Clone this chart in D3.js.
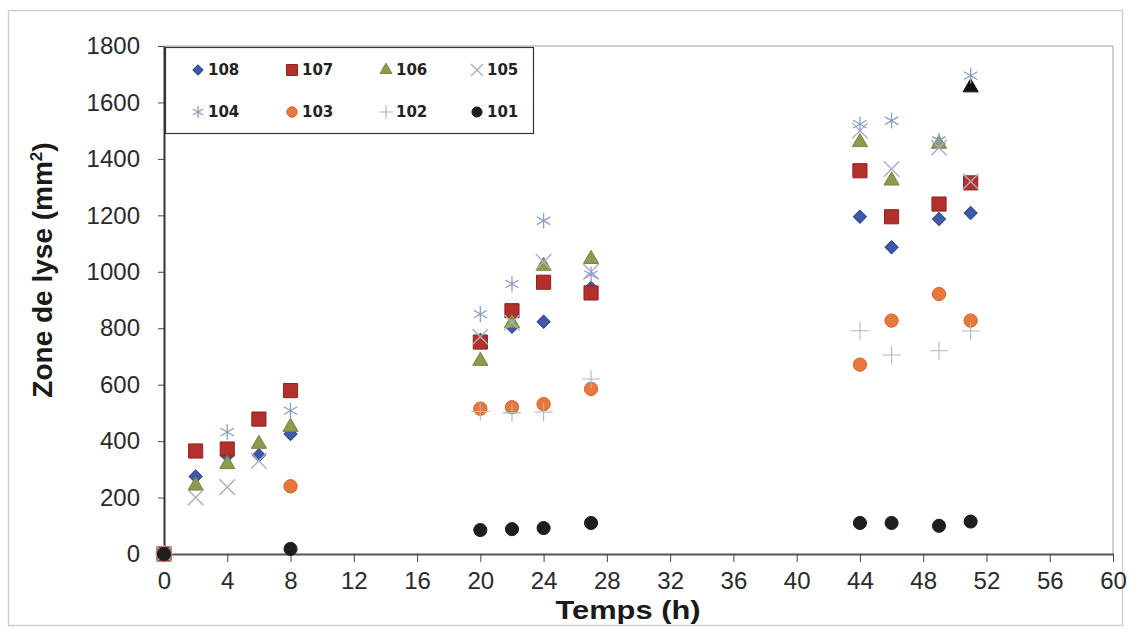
<!DOCTYPE html>
<html>
<head>
<meta charset="utf-8">
<script src="https://cdn.jsdelivr.net/npm/d3@7"></script>
<style>
  body { margin: 0; background: #fff; }
  svg { display: block; }
</style>
</head>
<body>
<div id="chart"></div>
<script>
// Sampling times (h)
const times = [0, 2, 4, 6, 8, 20, 22, 24, 27, 44, 46, 49, 51];

// Lysis area (mm2) per strain (null = not visible)
const s108 = [0, 275, 348, 350, 425, 758, 805, 823, 943, 1195, 1087, 1187, 1208];
const s107 = [0, 365, 372, 478, 579, 751, 862, 963, 925, 1358, 1195, 1240, 1315];
const s106 = [0, 242, 318, 390, 450, 684, 818, 1021, 1045, 1459, 1323, 1453, 1653];
const s105 = [0, 200, 237, 330, null, 770, 820, 1035, 1000, 1500, 1364, 1440, 1320];
const s104 = [0, null, 432, null, 508, 850, 957, 1181, 990, 1523, 1535, 1465, 1695];
const s103 = [0, null, null, null, 240, 515, 520, 531, 585, 671, 827, 921, 827];
const s102 = [0, null, null, null, null, 505, 500, 503, 620, 791, 705, 720, 790];
const s101 = [0, null, null, null, 18, 85, 88, 92, 110, 110, 110, 100, 115];

const seriesNames = ["108", "107", "106", "105", "104", "103", "102", "101"];
const seriesValues = [s108, s107, s106, s105, s104, s103, s102, s101];

const xTicks = d3.range(0, 61, 4);
const yTicks = d3.range(0, 1801, 200);

// Marker look for each strain
const markers = {
  "108": { type: d3.symbolSquare, size: 85, rotate: 45, fill: "#3f5aa6", stroke: "#2c4590" },
  "107": { type: d3.symbolSquare, size: 200, rotate: 0, fill: "#b3302c", stroke: "#8c2420" },
  "106": { type: d3.symbolTriangle, size: 100, rotate: 0, fill: "#8c9c4e", stroke: "#76863e" },
  "105": { type: d3.symbolTimes || d3.symbolCross, size: 160, rotate: 0, fill: "none", stroke: "#a9afc0", line: 1.4 },
  "104": { type: d3.symbolAsterisk || d3.symbolCross, size: 170, rotate: 0, fill: "none", stroke: "#8b9fc4", line: 1.3 },
  "103": { type: d3.symbolCircle, size: 140, rotate: 0, fill: "#e8773c", stroke: "#d4652c" },
  "102": { type: d3.symbolPlus || d3.symbolCross, size: 110, rotate: 0, fill: "none", stroke: "#b4b6c0", line: 1.1 },
  "101": { type: d3.symbolCircle, size: 135, rotate: 0, fill: "#1e1e1e", stroke: "#1e1e1e" }
};

const W = 1130, H = 629;
const plot = { left: 164, right: 1113, top: 46, bottom: 554 };

const svg = d3.select("#chart")
  .append("svg")
  .attr("width", W)
  .attr("height", H);

svg.append("rect")
  .attr("width", W).attr("height", H)
  .attr("fill", "#fff");

// outer chart frame
svg.append("rect")
  .attr("x", 8.5).attr("y", 10.5)
  .attr("width", 1114).attr("height", 615)
  .attr("fill", "none")
  .attr("stroke", "#cfcfcf")
  .attr("stroke-width", 1.5);

const x = d3.scaleLinear().domain([0, 60]).range([plot.left, plot.right]);
const y = d3.scaleLinear().domain([0, 1800]).range([plot.bottom, plot.top]);

// plot area frame (top / right)
svg.append("path")
  .attr("d", `M${plot.left},${plot.top}H${plot.right}V${plot.bottom}`)
  .attr("fill", "none")
  .attr("stroke", "#a0a0a0")
  .attr("stroke-width", 1);

// x axis
const xAxis = svg.append("g")
  .attr("transform", `translate(0,${plot.bottom})`)
  .call(d3.axisBottom(x).tickValues(xTicks).tickSize(8).tickPadding(10).tickSizeOuter(0));
xAxis.select(".domain").attr("stroke", "#555").attr("stroke-width", 2);
xAxis.selectAll(".tick line").attr("stroke", "#444");
xAxis.selectAll("text")
  .attr("fill", "#2a2a2a")
  .style("font-family", "'Liberation Sans', Arial, sans-serif")
  .style("font-size", "24px");

// y axis
const yAxis = svg.append("g")
  .attr("transform", `translate(${plot.left},0)`)
  .call(d3.axisLeft(y).tickValues(yTicks).tickFormat(d3.format("d"))
    .tickSize(6).tickPadding(18).tickSizeOuter(0));
yAxis.select(".domain").attr("stroke", "#333").attr("stroke-width", 2);
yAxis.selectAll(".tick line").attr("stroke", "#444");
yAxis.selectAll("text")
  .attr("fill", "#2a2a2a")
  .style("font-family", "'Liberation Sans', Arial, sans-serif")
  .style("font-size", "24px");

// axis titles
svg.append("text")
  .attr("x", 628)
  .attr("y", 619)
  .attr("text-anchor", "middle")
  .attr("textLength", 145)
  .attr("lengthAdjust", "spacingAndGlyphs")
  .style("font-family", "'Liberation Sans', Arial, sans-serif")
  .style("font-weight", "bold")
  .style("font-size", "25px")
  .attr("fill", "#1a1a1a")
  .text("Temps (h)");

svg.append("text")
  .attr("transform", "translate(52,270) rotate(-90)")
  .attr("text-anchor", "middle")
  .style("font-family", "'Liberation Sans', Arial, sans-serif")
  .style("font-weight", "bold")
  .style("font-size", "28px")
  .attr("fill", "#1a1a1a")
  .html("Zone de lyse (mm<tspan dy='-10' font-size='17px'>2</tspan><tspan dy='10'>)</tspan>");

function drawMarker(g, name, scale) {
  const m = markers[name];
  g.append("path")
    .attr("d", d3.symbol().type(m.type).size(m.size * scale)())
    .attr("transform", `rotate(${m.rotate})`)
    .attr("fill", m.fill)
    .attr("stroke", m.stroke)
    .attr("stroke-width", m.line || 1);
}

// data points
seriesNames.forEach((name, si) => {
  const pts = times
    .map((t, i) => ({ t: t, v: seriesValues[si][i] }))
    .filter(d => d.v !== null);

  const g = svg.append("g").attr("class", "series-" + name);
  g.selectAll("g")
    .data(pts)
    .enter()
    .append("g")
    .attr("transform", d => `translate(${x(d.t)},${y(d.v)})`)
    .each(function(d) {
      drawMarker(d3.select(this), name, 1);
      // last 106 point is printed in black in the figure
      if (name === "106" && d.t === 51) {
        d3.select(this).select("path").attr("fill", "#111").attr("stroke", "#111");
      }
    });
});

// legend
const legend = svg.append("g");
legend.append("rect")
  .attr("x", 165.5).attr("y", 47.5)
  .attr("width", 368).attr("height", 86)
  .attr("fill", "#fff")
  .attr("stroke", "#333")
  .attr("stroke-width", 1.2);

const legendCols = [198, 292, 386, 477];
const legendRows = [70, 112];

seriesNames.forEach((name, i) => {
  const cx = legendCols[i % 4];
  const cy = legendRows[Math.floor(i / 4)];
  const item = legend.append("g").attr("transform", `translate(${cx},${cy})`);
  drawMarker(item, name, 0.6);
  item.append("text")
    .attr("x", 10)
    .attr("y", 0)
    .attr("dy", "0.36em")
    .style("font-family", "'DejaVu Sans', Verdana, sans-serif")
    .style("font-weight", "bold")
    .style("font-size", "15px")
    .attr("fill", "#222")
    .text(name);
});
</script>
</body>
</html>
